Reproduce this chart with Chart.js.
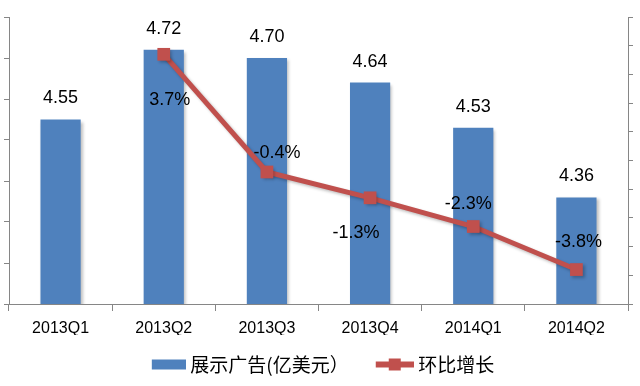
<!DOCTYPE html>
<html>
<head>
<meta charset="utf-8">
<script src="https://cdn.jsdelivr.net/npm/chart.js@4.4.0/dist/chart.umd.min.js"></script>
<style>
  html, body { margin: 0; padding: 0; background: #fff; }
  #wrap { width: 640px; height: 386px; }
</style>
</head>
<body>
<div id="wrap"><canvas id="adChart"></canvas></div>
<script>
// data
const quarters = ['2013Q1', '2013Q2', '2013Q3', '2013Q4', '2014Q1', '2014Q2'];
const adRevenue = [4.55, 4.72, 4.70, 4.64, 4.53, 4.36];
const qoqGrowth = [null, 3.7, -0.4, -1.3, -2.3, -3.8];

// where each growth label sits relative to its marker
const growthLabelOffsets = [null, [6, 46], [10, -19], [-14, 35], [-5, -22], [2, -28]];

const BLUE = '#4F81BD';
const RED = '#C0504D';
const AXIS = '#868686';

// legend swatches; the visible part is pushed to the right so it hugs the text
function legendIcon(kind) {
    const c = document.createElement('canvas');
    c.width = 50; c.height = 16;
    const g = c.getContext('2d');
    if (kind === 'bar') {
        g.fillStyle = BLUE;
        g.fillRect(16, 3, 34, 10);
    } else {
        g.strokeStyle = RED;
        g.lineWidth = 6;
        g.beginPath();
        g.moveTo(12, 8); g.lineTo(50, 8);
        g.stroke();
        g.fillStyle = RED;
        g.fillRect(25, 2, 12, 12);
    }
    return c;
}

// soft shadow under bars and line, like the office chart
const shadowPlugin = {
    id: 'shadow',
    beforeDatasetDraw(chart) {
        const ctx = chart.ctx;
        ctx.save();
        ctx.shadowColor = 'rgba(0,0,0,0.25)';
        ctx.shadowBlur = 3;
        ctx.shadowOffsetX = 2;
        ctx.shadowOffsetY = 2;
    },
    afterDatasetDraw(chart) {
        chart.ctx.restore();
    }
};

const valueLabels = {
    id: 'valueLabels',
    afterDatasetsDraw(chart) {
        const ctx = chart.ctx;
        ctx.save();
        ctx.fillStyle = '#000';
        ctx.font = '18px "Liberation Sans", Arial, sans-serif';
        ctx.textAlign = 'center';
        ctx.textBaseline = 'middle';

        chart.getDatasetMeta(0).data.forEach((bar, i) => {
            ctx.fillText(adRevenue[i].toFixed(2), bar.x, bar.y - 21);
        });

        chart.getDatasetMeta(1).data.forEach((pt, i) => {
            if (qoqGrowth[i] === null) return;
            const off = growthLabelOffsets[i];
            ctx.fillText(qoqGrowth[i].toFixed(1) + '%', pt.x + off[0], pt.y + off[1]);
        });
        ctx.restore();
    }
};

const ctx = document.getElementById('adChart').getContext('2d');
new Chart(ctx, {
    type: 'bar',
    data: {
        labels: quarters,
        datasets: [{
            type: 'bar',
            label: '展示广告(亿美元）',
            data: adRevenue,
            backgroundColor: BLUE,
            yAxisID: 'y',
            barPercentage: 0.39,
            categoryPercentage: 1,
            order: 1
        }, {
            type: 'line',
            label: '环比增长',
            data: qoqGrowth,
            borderColor: RED,
            backgroundColor: RED,
            borderWidth: 5,
            pointStyle: 'rect',
            pointRadius: 9,
            pointBackgroundColor: RED,
            pointBorderWidth: 0,
            yAxisID: 'y1',
            order: 0
        }]
    },
    options: {
        responsive: true,
        maintainAspectRatio: false,
        animation: false,
        layout: { padding: { left: 2, right: 7, top: 17, bottom: 2 } },
        plugins: {
            tooltip: { enabled: false },
            legend: {
                position: 'bottom',
                labels: {
                    usePointStyle: true,
                    pointStyleWidth: 40,
                    boxHeight: 16,
                    padding: 20,
                    color: '#000',
                    font: { family: '"Noto Sans CJK SC", sans-serif', size: 19, lineHeight: 1 },
                    generateLabels(chart) {
                        return chart.data.datasets.map((ds, i) => ({
                            text: ds.label,
                            pointStyle: legendIcon(i === 0 ? 'bar' : 'line'),
                            fillStyle: ds.backgroundColor,
                            strokeStyle: ds.backgroundColor,
                            lineWidth: 0,
                            datasetIndex: i,
                            hidden: false
                        }));
                    }
                }
            }
        },
        scales: {
            x: {
                grid: {
                    offset: true,
                    drawOnChartArea: false,
                    tickLength: 7,
                    color: AXIS
                },
                border: { color: AXIS },
                ticks: {
                    color: '#000',
                    padding: 10,
                    font: { family: '"Liberation Sans", Arial, sans-serif', size: 16, lineHeight: 1 }
                },
                // keep the axis band tight so the legend can sit right under the labels
                afterFit(scale) { scale.height = 31; }
            },
            y: {
                position: 'left',
                min: 4.1,
                max: 4.8,
                ticks: { stepSize: 0.1, display: false },
                grid: { drawOnChartArea: false, tickLength: 5, color: AXIS },
                border: { color: AXIS }
            },
            y1: {
                position: 'right',
                min: -5,
                max: 5,
                ticks: { stepSize: 1, display: false },
                grid: { drawOnChartArea: false, tickLength: 5, color: AXIS },
                border: { color: AXIS }
            }
        }
    },
    plugins: [shadowPlugin, valueLabels]
});
</script>
</body>
</html>
